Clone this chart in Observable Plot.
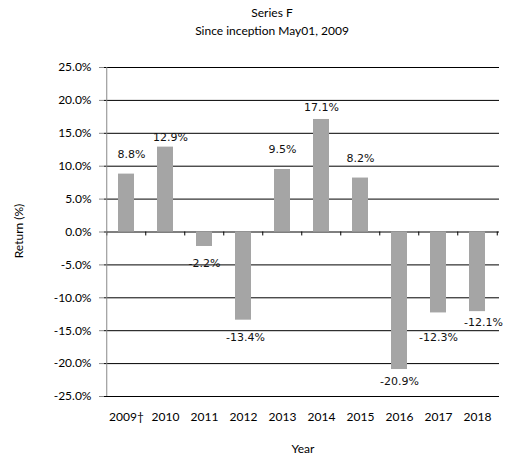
<!DOCTYPE html>
<html>
<head>
<meta charset="utf-8">
<script src="https://cdn.jsdelivr.net/npm/d3@7"></script>
<script src="https://cdn.jsdelivr.net/npm/@observablehq/plot@0.6"></script>
<style>
  body { margin: 0; background: #fff; }
  #wrap { position: relative; width: 508px; height: 456px; overflow: hidden; font-family: Lato, "Liberation Sans", sans-serif; color: #000; }
  .t { position: absolute; left: 0; width: 508px; text-align: center; font-size: 12px; }
  #ylab { position: absolute; left: 18px; top: 231px; transform: translate(-50%, -50%) rotate(-90deg); font-size: 12px; white-space: nowrap; }
  #xlab { position: absolute; left: 303px; top: 448px; transform: translate(-50%, -50%); font-size: 12px; }
  #chart { position: absolute; left: 0; top: 0; }
</style>
</head>
<body>
<div id="wrap">
  <div id="chart"></div>
  <div class="t" style="top:5px; left:18px;">Series F</div>
  <div class="t" style="top:23px; left:18px;">Since inception May01, 2009</div>
  <div id="ylab">Return (%)</div>
  <div id="xlab">Year</div>
</div>
<script>
const years = ["2009†", "2010", "2011", "2012", "2013", "2014", "2015", "2016", "2017", "2018"];
const returns = [8.8, 12.9, -2.2, -13.4, 9.5, 17.1, 8.2, -20.9, -12.3, -12.1];
const yTicks = [-25, -20, -15, -10, -5, 0, 5, 10, 15, 20, 25];
// label placement (pixels, style only)
const labelDx = [5, 5, 0, 2, 0, 0, 0, 0, 0, 6];
const labelDy = [-20, -10, 17, 17, -20, -12, -20, 12, 25, 11];

const data = years.map((y, i) => ({year: y, value: returns[i]}));
const fmt = v => v.toFixed(1) + "%";
const step = (508 - 104 - 9) / years.length;

const labelMarks = data.map((d, i) => Plot.text([d], {
  x: "year",
  y: "value",
  text: d => fmt(d.value),
  dx: labelDx[i],
  dy: labelDy[i],
  fontFamily: "DejaVu Sans",
  fontSize: 11,
  lineAnchor: "middle",
  fill: "#111"
}));

const plot = Plot.plot({
  width: 508,
  height: 456,
  marginLeft: 104,
  marginRight: 9,
  marginTop: 67,
  marginBottom: 60,
  style: {fontFamily: "Lato, 'Liberation Sans', sans-serif", fontSize: "12px", background: "transparent", overflow: "visible"},
  x: {domain: years, paddingInner: 0.6, paddingOuter: 0.3, label: null},
  y: {domain: [-25, 25], ticks: yTicks, label: null, tickFormat: fmt},
  marks: [
    Plot.ruleY(yTicks, {stroke: "#000", strokeWidth: 1}),
    Plot.barY(data, {x: "year", y: "value", fill: "#a5a5a5"}),
    Plot.ruleX(years, {x: d => d, y1: 0, y2: -0.6, dx: -step / 2, stroke: "#000"}),
    Plot.ruleX([years[years.length - 1]], {x: d => d, y1: 0, y2: -0.6, dx: step / 2, stroke: "#000"}),
    Plot.ruleX([years[0]], {x: d => d, y1: -25, y2: 25, dx: -step / 2, stroke: "#888"}),
    Plot.axisY({ticks: yTicks, tickFormat: fmt, tickSize: 5, tickPadding: 8, stroke: "#888", fontSize: 12}),
    Plot.axisX({tickSize: 0, tickPadding: 16, fontSize: 12, anchor: "bottom"}),
    ...labelMarks
  ]
});
document.getElementById("chart").appendChild(plot);
</script>
</body>
</html>
